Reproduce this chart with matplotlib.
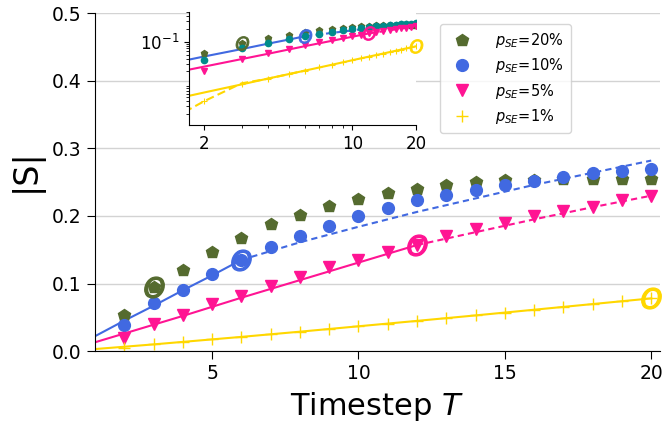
import numpy as np
import matplotlib.pyplot as plt

# measured |S| per timestep
T = [2, 3, 4, 5, 6, 7, 8, 9, 10, 11, 12, 13, 14, 15, 16, 17, 18, 19, 20]
s20 = [0.053, 0.095, 0.120, 0.147, 0.168, 0.188, 0.202, 0.215, 0.225, 0.234,
       0.240, 0.246, 0.251, 0.253, 0.253, 0.255, 0.255, 0.254, 0.254]
s10 = [0.038, 0.071, 0.091, 0.114, 0.135, 0.154, 0.170, 0.185, 0.200, 0.212,
       0.223, 0.231, 0.239, 0.246, 0.252, 0.258, 0.263, 0.266, 0.269]
s5 = [0.020, 0.040, 0.054, 0.069, 0.082, 0.096, 0.110, 0.124, 0.135, 0.147,
      0.157, 0.171, 0.181, 0.190, 0.200, 0.208, 0.214, 0.223, 0.230]
s1 = [0.0040, 0.0099, 0.0135, 0.0172, 0.0210, 0.0248, 0.0287, 0.0327, 0.0367, 0.0407,
      0.0447, 0.0487, 0.0528, 0.0570, 0.0612, 0.0654, 0.0696, 0.0738, 0.0780]

# fitted curves (solid = fit range, dashed = extrapolation)
fit10_T = [1, 2, 3, 4, 5, 6]
fit10 = [0.022, 0.045, 0.067, 0.090, 0.112, 0.135]
ext10_T = [6, 8, 10, 12, 14, 16, 18, 20]
ext10 = [0.135, 0.161, 0.184, 0.206, 0.226, 0.246, 0.264, 0.282]
fit5_T = [1, 2, 4, 6, 8, 10, 12]
fit5 = [0.013, 0.026, 0.052, 0.079, 0.105, 0.131, 0.157]
ext5_T = [12, 14, 16, 18, 20]
ext5 = [0.157, 0.176, 0.195, 0.213, 0.230]
fit1_T = [1, 2, 3, 4, 6, 8, 10, 12, 14, 16, 18, 20]
fit1 = [0.003, 0.0064, 0.0099, 0.0136, 0.0210, 0.0287, 0.0367, 0.0447, 0.0528, 0.0612, 0.0696, 0.078]
early1_T = [1, 2, 3, 4, 5, 6]
early1 = [0.0006, 0.0040, 0.0105, 0.0135, 0.0172, 0.0210]

# crossover points (ring markers)
ring_T = [3, 6, 12, 20]
ring_S = [0.095, 0.135, 0.157, 0.078]

C20, C10, C5, C1 = "darkolivegreen", "royalblue", "deeppink", "gold"
ring_colors = [C20, C10, C5, C1]

fig = plt.figure(figsize=(6.67, 4.24), dpi=100)
ax = fig.add_axes([0.1424, 0.172, 0.8471, 0.7966])

ax.plot(fit10_T, fit10, color=C10, lw=1.5)
ax.plot(ext10_T, ext10, color=C10, lw=1.5, ls=(0, (3, 2)))
ax.plot(fit5_T, fit5, color=C5, lw=1.5)
ax.plot(ext5_T, ext5, color=C5, lw=1.5, ls=(0, (3, 2)))
ax.plot(fit1_T, fit1, color=C1, lw=1.5)

ax.plot(T, s20, ls="", marker="p", ms=9, color=C20, label="$p_{SE}$=20%")
ax.plot(T, s10, ls="", marker="o", ms=8.5, color=C10, label="$p_{SE}$=10%")
ax.plot(T, s5, ls="", marker="v", ms=8.5, color=C5, label="$p_{SE}$=5%")
ax.plot(T, s1, ls="", marker="+", ms=9, mew=1, color=C1, label="$p_{SE}$=1%")
for t, s, c in zip(ring_T, ring_S, ring_colors):
    ax.plot(t, s, marker="$O$", ms=15, mew=1.0, color=c, ls="", clip_on=False)

ax.set_xlim(1, 20.3)
ax.set_ylim(0, 0.5)
ax.set_xticks([5, 10, 15, 20])
ax.set_yticks([0, 0.1, 0.2, 0.3, 0.4, 0.5])
ax.yaxis.grid(True, color="#d3d3d3", lw=1)
ax.set_axisbelow(True)
for sp in ["top", "right"]:
    ax.spines[sp].set_visible(False)
ax.tick_params(labelsize=13.5, length=6)
ax.set_xlabel("Timestep $T$", fontsize=22, labelpad=5)
ax.set_ylabel("|S|", fontsize=24)
ax.yaxis.set_label_coords(-0.092, 0.536)

ax.legend(loc="upper right", bbox_to_anchor=(0.856, 0.99), fontsize=10.5,
          handletextpad=1.3, labelspacing=0.42, borderpad=0.5)

# inset on log-log axes
ins = fig.add_axes([0.2838, 0.7052, 0.340, 0.2665])
ins.plot(fit10_T, fit10, color=C10, lw=1.5)
ins.plot(ext10_T, ext10, color=C10, lw=1.5, ls=(0, (3, 2)))
ins.plot(fit5_T, fit5, color=C5, lw=1.5)
ins.plot(ext5_T, ext5, color=C5, lw=1.5, ls=(0, (3, 2)))
ins.plot(fit1_T, fit1, color=C1, lw=1.5)
ins.plot(early1_T, early1, color=C1, lw=1.5, ls=(0, (4, 2)))
ins.plot(T, s20, ls="", marker="p", ms=5, color=C20)
ins.plot(T, s10, ls="", marker="o", ms=4.5, color="darkcyan")
ins.plot(T, s5, ls="", marker="v", ms=5, color=C5)
ins.plot(T, s1, ls="", marker="+", ms=5, mew=0.8, color=C1)
for t, s, c in zip(ring_T, ring_S, ring_colors):
    ins.plot(t, s, marker="$O$", ms=10, mew=0.6, color=c, ls="", clip_on=False)
ins.set_xscale("log")
ins.set_yscale("log")
ins.set_xlim(1.7, 20)
ins.set_ylim(0.0011, 0.5)
ins.set_xticks([2, 10, 20])
ins.set_xticklabels(["2", "10", "20"])
ins.set_yticks([0.1])
ins.set_yticklabels(["$10^{-1}$"])
for sp in ["top", "right"]:
    ins.spines[sp].set_visible(False)
ins.tick_params(labelsize=12)

fig.savefig("out.png", dpi=100)
